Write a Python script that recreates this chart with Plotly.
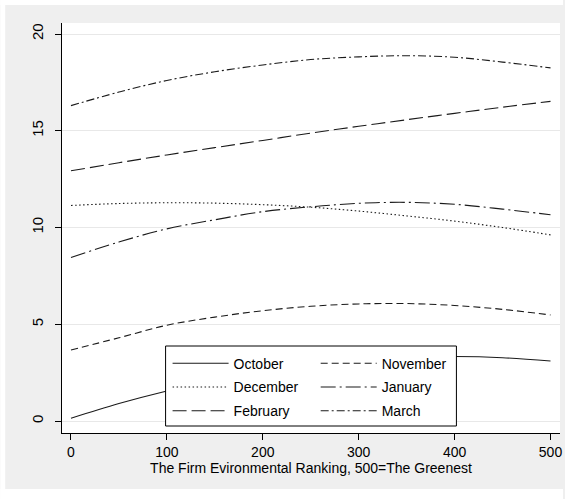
import plotly.graph_objects as go

# Values
x_rank = [0, 50, 100, 150, 200, 250, 300, 350, 400, 450, 500]
october = [0.14, 0.90, 1.55, 2.10, 2.55, 2.90, 3.14, 3.29, 3.33, 3.27, 3.10]
november = [3.67, 4.30, 4.95, 5.37, 5.70, 5.93, 6.05, 6.07, 5.97, 5.77, 5.48]
december = [11.14, 11.24, 11.28, 11.26, 11.18, 11.05, 10.85, 10.60, 10.33, 10.00, 9.62]
january = [8.45, 9.25, 9.93, 10.40, 10.82, 11.07, 11.25, 11.30, 11.20, 10.95, 10.66]
february = [12.93, 13.35, 13.75, 14.13, 14.50, 14.88, 15.23, 15.57, 15.90, 16.22, 16.52]
march = [16.30, 17.00, 17.60, 18.05, 18.40, 18.68, 18.82, 18.88, 18.80, 18.55, 18.25]

x_ticks = [0, 100, 200, 300, 400, 500]
y_ticks = [0, 5, 10, 15, 20]
x_title = "The Firm Evironmental Ranking, 500=The Greenest"

series = [
    ("October", october, "solid", "legend"),
    ("November", november, "7px,4px", "legend2"),
    ("December", december, "1.5px,2.5px", "legend"),
    ("January", january, "15px,4px,2px,4px", "legend2"),
    ("February", february, "14px,5px", "legend"),
    ("March", march, "8px,3px,2px,3px", "legend2"),
]

FONT = "Liberation Sans, Arial, sans-serif"
W, H = 565, 499
ML, MR, MT, MB = 62, 3, 23, 66
PW, PH = W - ML - MR, H - MT - MB


def px_x(p):
    return (p - ML) / PW


def px_y(p):
    return (H - MB - p) / PH


fig = go.Figure()
for name, vals, dash, leg in series:
    fig.add_trace(go.Scatter(
        x=x_rank, y=vals, mode="lines", name=name,
        line=dict(color="#1a1a1a", width=1.1, dash=dash, shape="spline", smoothing=1.0),
        legend=leg, legendgroup=name, hoverinfo="skip",
    ))

legend_common = dict(
    orientation="v", xanchor="left", yanchor="top",
    bgcolor="rgba(0,0,0,0)", borderwidth=0,
    font=dict(family=FONT, size=14, color="#000"),
    itemwidth=56, traceorder="grouped", tracegroupgap=2.5,
)

fig.update_layout(
    width=W, height=H,
    margin=dict(l=ML, r=MR, t=MT, b=MB),
    paper_bgcolor="#efefef",
    plot_bgcolor="#ffffff",
    font=dict(family=FONT, size=14, color="#000"),
    legend=dict(x=px_x(168), y=px_y(347.7), **legend_common),
    legend2=dict(x=px_x(316.7), y=px_y(347.7), **legend_common),
    xaxis=dict(
        range=[-9.35, 509.9], tickvals=x_ticks, ticks="outside", ticklen=6,
        tickwidth=1, tickcolor="#000", showline=True, linecolor="#000", linewidth=1,
        showgrid=False, zeroline=False,
        tickfont=dict(family=FONT, size=14, color="#000"),
        title=dict(text=x_title, standoff=2, font=dict(family=FONT, size=14, color="#000")),
    ),
    yaxis=dict(
        range=[-0.62, 20.57], tickvals=y_ticks, ticks="outside", ticklen=6,
        tickwidth=1, tickcolor="#000", showline=True, linecolor="#000", linewidth=1,
        showgrid=True, gridcolor="#e8e8e8", gridwidth=1, zeroline=False,
        tickangle=-90, tickfont=dict(family=FONT, size=15, color="#000"),
        ticklabelstandoff=6,
    ),
    shapes=[
        # legend frame (covers curves like the original legend box)
        dict(type="rect", xref="paper", yref="paper", layer="above",
             x0=px_x(166), x1=px_x(458), y0=px_y(426), y1=px_y(346),
             fillcolor="#ffffff", line=dict(color="#000", width=1)),
        # thin white outer border of the image
        dict(type="rect", xref="paper", yref="paper", layer="below",
             x0=px_x(0), x1=px_x(5), y0=px_y(H), y1=px_y(0),
             fillcolor="#ffffff", line=dict(width=0)),
        dict(type="rect", xref="paper", yref="paper", layer="below",
             x0=px_x(0), x1=px_x(W), y0=px_y(5), y1=px_y(0),
             fillcolor="#ffffff", line=dict(width=0)),
        dict(type="rect", xref="paper", yref="paper", layer="below",
             x0=px_x(0), x1=px_x(W), y0=px_y(H), y1=px_y(489),
             fillcolor="#ffffff", line=dict(width=0)),
    ],
)

fig.write_html("out.html")
